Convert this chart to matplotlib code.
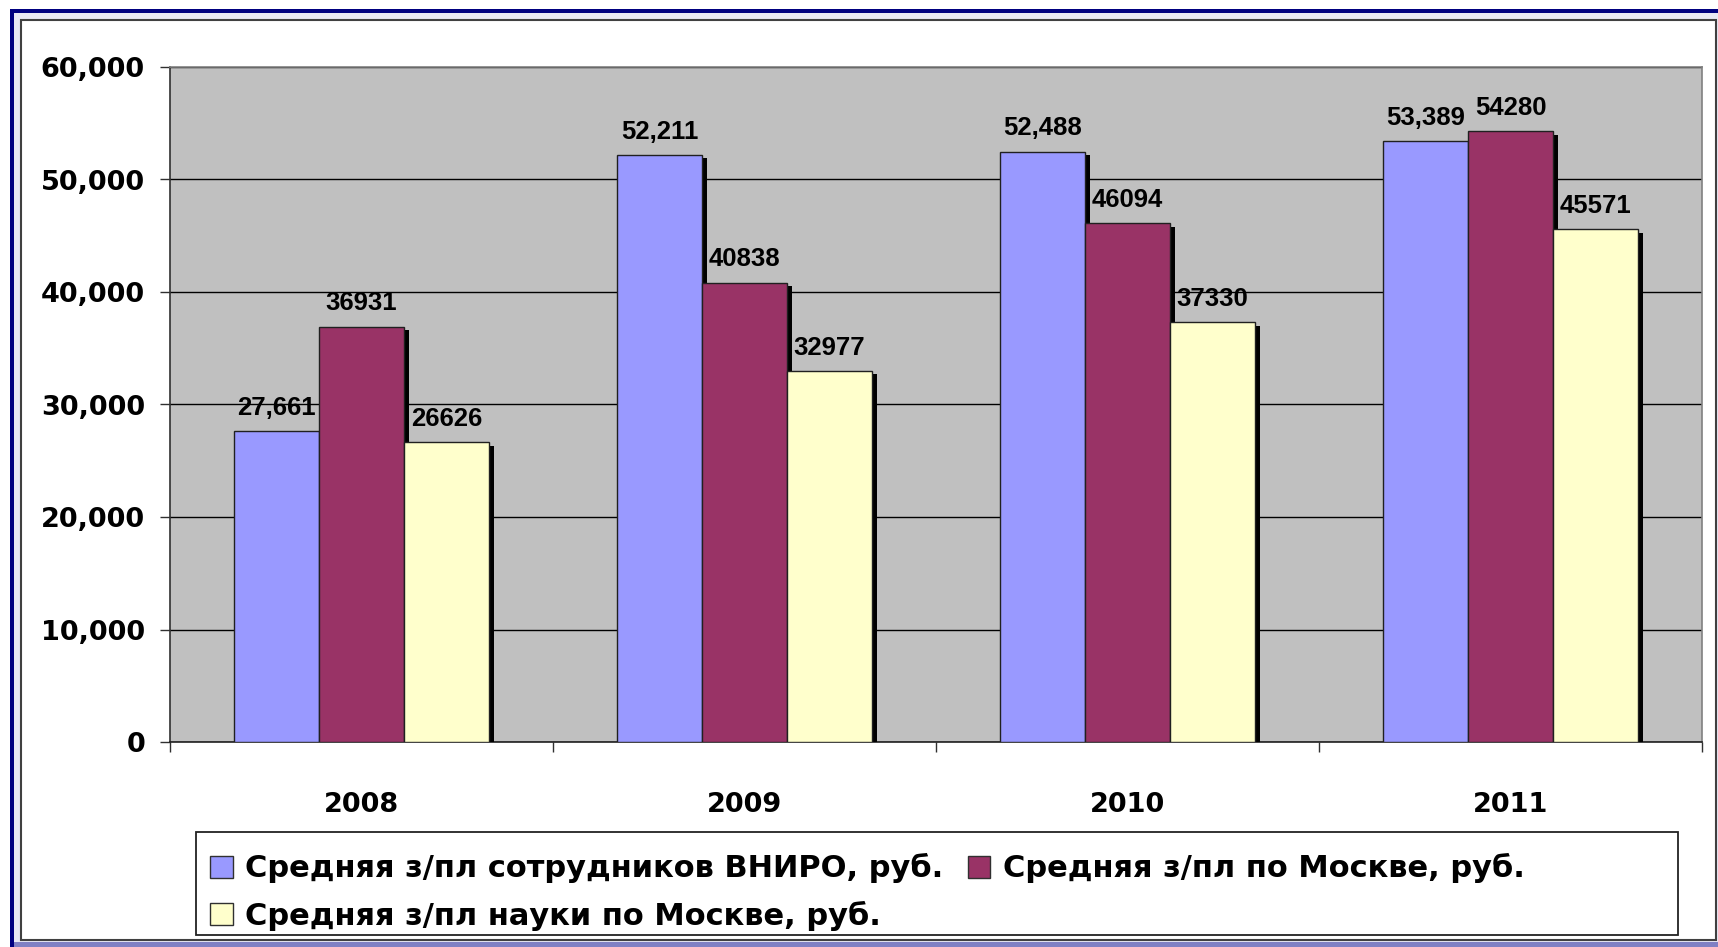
import matplotlib
matplotlib.use("Agg")
import matplotlib.pyplot as plt
import matplotlib.patches as mpatches
import matplotlib.patheffects as pe
from matplotlib.ticker import FixedLocator, FuncFormatter
import numpy as np

years = ["2008", "2009", "2010", "2011"]
vniro = [27661, 52211, 52488, 53389]
moscow = [36931, 40838, 46094, 54280]
science = [26626, 32977, 37330, 45571]

series_names = [
    "Средняя з/пл сотрудников ВНИРО, руб.",
    "Средняя з/пл по Москве, руб.",
    "Средняя з/пл науки по Москве, руб.",
]
colors = ["#9999FF", "#993366", "#FFFFCC"]
# first series labels come with thousands separator, the others without
label_fmt = ["{:,}", "{}", "{}"]

W, H = 1718, 947
fig = plt.figure(figsize=(W / 100, H / 100), dpi=100, facecolor="white")

# background frame drawn in pixel coords
bg = fig.add_axes([0, 0, 1, 1], zorder=-5)
bg.set_xlim(0, W)
bg.set_ylim(H, 0)
bg.axis("off")
bg.add_patch(mpatches.Rectangle((10, 9), W - 10, H - 9, fc="#000080", ec="none"))
bg.add_patch(mpatches.Rectangle((14, 13), W - 14, H - 13, fc="#e8e8f4", ec="none"))
bg.add_patch(mpatches.Rectangle((14, 942), W - 14, 5, fc="#8080c4", ec="none"))
bg.add_patch(mpatches.Rectangle((21, 20), 1695, 920, fc="white", ec="#404040", lw=1.5))
bg.add_patch(mpatches.Rectangle((196, 832), 1482, 103, fc="white", ec="#222222", lw=1.3))

ax = fig.add_axes([170 / W, 1 - 742 / H, 1532 / W, 675 / H])
ax.set_facecolor("#C0C0C0")

x = np.arange(len(years))
width = 1 / 4.5
shadow = [pe.SimplePatchShadow(offset=(3.5, -2.5), shadow_rgbFace="black", alpha=1.0), pe.Normal()]
for i, (vals, c) in enumerate(zip([vniro, moscow, science], colors)):
    bars = ax.bar(x + (i - 1) * width, vals, width, color=c, edgecolor="#202020",
                  linewidth=1.0, zorder=3, path_effects=shadow)
    ax.bar_label(bars, labels=[label_fmt[i].format(v) for v in vals], padding=8,
                 fontsize=18.5, fontweight="bold", family="Liberation Sans", zorder=5)

ax.set_xlim(-0.5, len(years) - 0.5)
ax.set_ylim(0, 60000)
ax.yaxis.set_major_locator(FixedLocator(np.arange(0, 60001, 10000)))
ax.yaxis.set_major_formatter(FuncFormatter(lambda v, p: f"{int(v):,}"))
ax.grid(axis="y", color="black", linewidth=1.0, zorder=1)
ax.set_axisbelow(True)

ax.set_xticks(np.arange(-0.5, len(years), 1.0))
ax.set_xticklabels([])
ax.set_xticks(x, minor=True)
ax.set_xticklabels(years, minor=True)
ax.tick_params(axis="x", which="major", length=7, width=1, color="#303030", direction="out")
ax.tick_params(axis="x", which="minor", length=0, pad=36, labelsize=19.5)
ax.tick_params(axis="y", length=7, width=1, color="#303030", pad=11, labelsize=19.5)
for lab in ax.get_xticklabels(minor=True) + ax.get_yticklabels():
    lab.set_fontweight("bold")
    lab.set_family("DejaVu Sans")

ax.spines["top"].set_color("#808080")
ax.spines["right"].set_color("#808080")
ax.spines["left"].set_color("#303030")
ax.spines["bottom"].set_color("#202020")
for s in ax.spines.values():
    s.set_linewidth(1.2)

handles = [mpatches.Patch(fc=c, ec="#303030", lw=1.0) for c in colors]
# column-wise fill: first column gets items 1 and 3, second column item 2
order = [0, 2, 1]
leg = fig.legend([handles[k] for k in order], [series_names[k] for k in order],
                 ncol=2, loc="upper left", bbox_to_anchor=(195, 838),
                 bbox_transform=bg.transData, frameon=False, borderpad=0,
                 handlelength=0.74, handleheight=0.72, handletextpad=0.4,
                 labelspacing=0.56, columnspacing=0.8,
                 prop={"family": "DejaVu Sans", "weight": "bold", "size": 22})

fig.savefig("out.png", dpi=100, facecolor="white")
